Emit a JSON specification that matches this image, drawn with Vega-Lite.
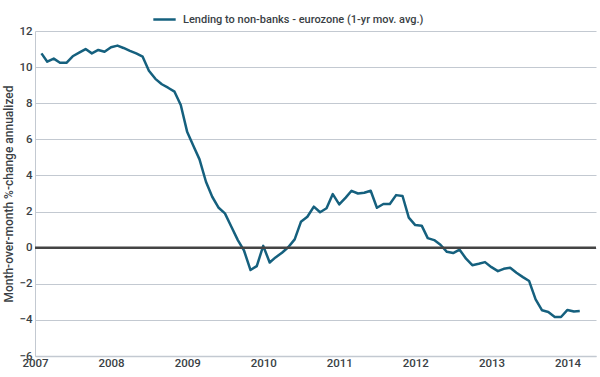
{
  "$schema": "https://vega.github.io/schema/vega-lite/v6.json",
  "width": 561,
  "height": 325,
  "autosize": "none",
  "padding": {"left": 35, "top": 31, "right": 4, "bottom": 21},
  "background": "white",
  "config": {
    "view": {"stroke": null},
    "font": "Roboto",
    "axis": {"labelFont": "Roboto", "titleFont": "Roboto", "labelColor": "#3a3f45", "titleColor": "#3a3f45", "labelFontWeight": 500, "titleFontWeight": 500}
  },
  "data": {
    "values": [
      {"date": "2007-02-01", "value": 10.76},
      {"date": "2007-03-01", "value": 10.3},
      {"date": "2007-04-01", "value": 10.47},
      {"date": "2007-05-01", "value": 10.24},
      {"date": "2007-06-01", "value": 10.24},
      {"date": "2007-07-01", "value": 10.6},
      {"date": "2007-08-01", "value": 10.8},
      {"date": "2007-09-01", "value": 11.0},
      {"date": "2007-10-01", "value": 10.76},
      {"date": "2007-11-01", "value": 10.95},
      {"date": "2007-12-01", "value": 10.85},
      {"date": "2008-01-01", "value": 11.1},
      {"date": "2008-02-01", "value": 11.19},
      {"date": "2008-03-01", "value": 11.06},
      {"date": "2008-04-01", "value": 10.9},
      {"date": "2008-05-01", "value": 10.76},
      {"date": "2008-06-01", "value": 10.58},
      {"date": "2008-07-01", "value": 9.8},
      {"date": "2008-08-01", "value": 9.35},
      {"date": "2008-09-01", "value": 9.05},
      {"date": "2008-10-01", "value": 8.86},
      {"date": "2008-11-01", "value": 8.64},
      {"date": "2008-12-01", "value": 7.9},
      {"date": "2009-01-01", "value": 6.4},
      {"date": "2009-02-01", "value": 5.6},
      {"date": "2009-03-01", "value": 4.89},
      {"date": "2009-04-01", "value": 3.65},
      {"date": "2009-05-01", "value": 2.82},
      {"date": "2009-06-01", "value": 2.21},
      {"date": "2009-07-01", "value": 1.9},
      {"date": "2009-08-01", "value": 1.16},
      {"date": "2009-09-01", "value": 0.42},
      {"date": "2009-10-01", "value": -0.17},
      {"date": "2009-11-01", "value": -1.24},
      {"date": "2009-12-01", "value": -1.02},
      {"date": "2010-01-01", "value": 0.1},
      {"date": "2010-02-01", "value": -0.82},
      {"date": "2010-03-01", "value": -0.54},
      {"date": "2010-04-01", "value": -0.28},
      {"date": "2010-05-01", "value": 0.02},
      {"date": "2010-06-01", "value": 0.46},
      {"date": "2010-07-01", "value": 1.43},
      {"date": "2010-08-01", "value": 1.71},
      {"date": "2010-09-01", "value": 2.27},
      {"date": "2010-10-01", "value": 1.96},
      {"date": "2010-11-01", "value": 2.18},
      {"date": "2010-12-01", "value": 2.97},
      {"date": "2011-01-01", "value": 2.4},
      {"date": "2011-02-01", "value": 2.77},
      {"date": "2011-03-01", "value": 3.15},
      {"date": "2011-04-01", "value": 3.0},
      {"date": "2011-05-01", "value": 3.04},
      {"date": "2011-06-01", "value": 3.15},
      {"date": "2011-07-01", "value": 2.21},
      {"date": "2011-08-01", "value": 2.42},
      {"date": "2011-09-01", "value": 2.42},
      {"date": "2011-10-01", "value": 2.91},
      {"date": "2011-11-01", "value": 2.86},
      {"date": "2011-12-01", "value": 1.66},
      {"date": "2012-01-01", "value": 1.25},
      {"date": "2012-02-01", "value": 1.22},
      {"date": "2012-03-01", "value": 0.53},
      {"date": "2012-04-01", "value": 0.42},
      {"date": "2012-05-01", "value": 0.16},
      {"date": "2012-06-01", "value": -0.23},
      {"date": "2012-07-01", "value": -0.3},
      {"date": "2012-08-01", "value": -0.11},
      {"date": "2012-09-01", "value": -0.61},
      {"date": "2012-10-01", "value": -0.97},
      {"date": "2012-11-01", "value": -0.89},
      {"date": "2012-12-01", "value": -0.8},
      {"date": "2013-01-01", "value": -1.08},
      {"date": "2013-02-01", "value": -1.3},
      {"date": "2013-03-01", "value": -1.17},
      {"date": "2013-04-01", "value": -1.11},
      {"date": "2013-05-01", "value": -1.39},
      {"date": "2013-06-01", "value": -1.63},
      {"date": "2013-07-01", "value": -1.85},
      {"date": "2013-08-01", "value": -2.86},
      {"date": "2013-09-01", "value": -3.47},
      {"date": "2013-10-01", "value": -3.56},
      {"date": "2013-11-01", "value": -3.84},
      {"date": "2013-12-01", "value": -3.84},
      {"date": "2014-01-01", "value": -3.45},
      {"date": "2014-02-01", "value": -3.54},
      {"date": "2014-03-01", "value": -3.51}
    ]
  },
  "layer": [
    {
      "mark": {"type": "line", "strokeWidth": 2.5, "strokeJoin": "round"},
      "transform": [{"calculate": "'Lending to non-banks - eurozone (1-yr mov. avg.)'", "as": "series"}],
      "encoding": {
        "x": {
          "field": "date", "type": "temporal",
          "scale": {"domain": [{"year": 2007, "month": 1, "date": 1}, {"year": 2014, "month": 5, "date": 18}]},
          "axis": {
            "title": null, "format": "%Y", "tickCount": 30,
            "values": [{"year": 2007}, {"year": 2008}, {"year": 2009}, {"year": 2010}, {"year": 2011}, {"year": 2012}, {"year": 2013}, {"year": 2014}],
            "grid": false, "ticks": false, "domainColor": "#c3c9d1", "domainWidth": 1.5,
            "labelFontSize": 11.5, "labelPadding": 1, "labelFlush": false, "labelOverlap": false
          }
        },
        "y": {
          "field": "value", "type": "quantitative",
          "scale": {"domain": [-6, 12], "nice": false, "zero": false},
          "axis": {
            "title": "Month-over-month %-change annualized", "tickCount": 30, "format": "d",
            "values": [-6, -4, -2, 0, 2, 4, 6, 8, 10, 12],
            "grid": true, "gridColor": "#c3c9d1", "gridWidth": 1,
            "ticks": false, "domainColor": "#c3c9d1", "domainWidth": 1,
            "labelFontSize": 11.5, "labelPadding": 3, "labelFlush": false, "labelOverlap": false,
            "titleFontSize": 12, "titlePadding": 3
          }
        },
        "color": {
          "field": "series", "type": "nominal",
          "scale": {"range": ["#15607e"]},
          "legend": {
            "title": null, "orient": "none", "legendX": 117, "legendY": -24,
            "symbolType": "stroke", "symbolSize": 500, "symbolStrokeWidth": 2.5,
            "labelFontSize": 11, "labelFont": "Roboto", "labelFontWeight": 500, "labelColor": "#3a3f45", "labelOffset": 6, "labelLimit": 0
          }
        }
      }
    },
    {
      "data": {"values": [{"y": 0}]},
      "mark": {"type": "rule", "color": "#444444", "strokeWidth": 2.5},
      "encoding": {"y": {"field": "y", "type": "quantitative"}}
    }
  ]
}
